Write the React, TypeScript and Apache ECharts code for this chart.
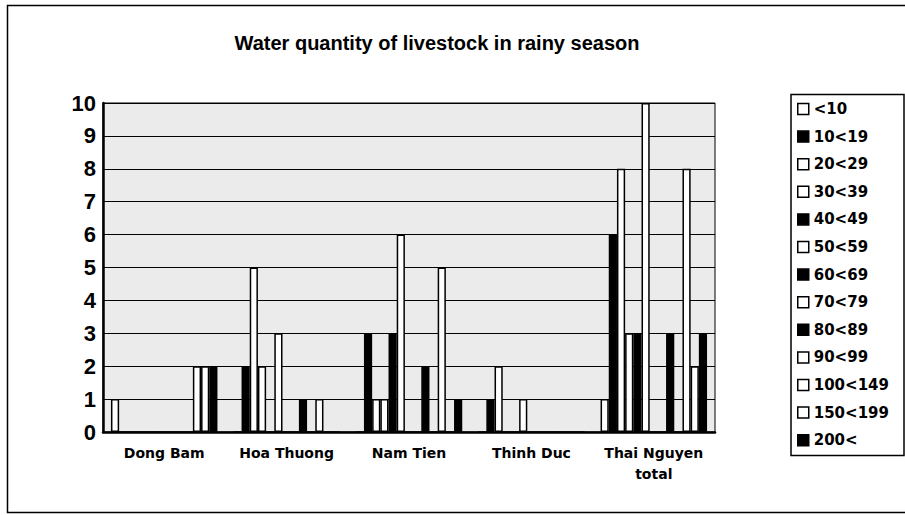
import React, { useEffect, useRef } from "react";
import * as echarts from "echarts";

const categories = ["Dong Bam", "Hoa Thuong", "Nam Tien", "Thinh Duc", "Thai Nguyen\ntotal"];
const seriesNames = ["<10", "10<19", "20<29", "30<39", "40<49", "50<59", "60<69", "70<79", "80<89", "90<99", "100<149", "150<199", "200<"];
const seriesFills = ["#ffffff", "#000000", "#ffffff", "#ffffff", "#000000", "#ffffff", "#000000", "#ffffff", "#000000", "#ffffff", "#ffffff", "#ffffff", "#000000"];
const v0 = [1, 0, 0, 0, 1];
const v1 = [0, 2, 3, 1, 6];
const v2 = [0, 5, 1, 2, 8];
const v3 = [0, 2, 1, 0, 3];
const v4 = [0, 0, 3, 0, 3];
const v5 = [0, 3, 6, 1, 10];
const v6 = [0, 0, 0, 0, 0];
const v7 = [0, 0, 0, 0, 0];
const v8 = [0, 1, 2, 0, 3];
const v9 = [0, 0, 0, 0, 0];
const v10 = [2, 1, 5, 0, 8];
const v11 = [2, 0, 0, 0, 2];
const v12 = [2, 0, 1, 0, 3];
const seriesValues = [v0, v1, v2, v3, v4, v5, v6, v7, v8, v9, v10, v11, v12];
const yTicks = [0, 10, 1];

export default function App() {
  const ref = useRef<HTMLDivElement>(null);
  useEffect(() => {
    if (!ref.current) return;
    const chart = echarts.init(ref.current, null, { renderer: "svg" });
    chart.setOption({
      animation: false,
      backgroundColor: "#ffffff",
      title: {
        text: "Water quantity of livestock in rainy season",
        left: 432,
        top: 28,
        textAlign: "center",
        textStyle: { fontFamily: "Liberation Sans", fontSize: 20, fontWeight: "bold", color: "#000" },
      },
      graphic: [
        {
          type: "rect",
          shape: { x: 7.5, y: 5.5, width: 905, height: 507 },
          style: { fill: "none", stroke: "#000", lineWidth: 1.5 },
          silent: true,
        },
        {
          type: "rect",
          shape: { x: 791, y: 94.5, width: 113, height: 361 },
          style: { fill: "#fff", stroke: "#000", lineWidth: 1.5 },
          silent: true,
          z: -1,
        },
      ],
      legend: {
        orient: "vertical",
        left: 797,
        top: 101,
        padding: 0,
        itemGap: 11.6,
        itemWidth: 11,
        itemHeight: 11,
        icon: "rect",
        itemStyle: { borderColor: "#000", borderWidth: 1.5 },
        textStyle: { fontFamily: "DejaVu Sans", fontSize: 15, fontWeight: "bold", color: "#000", lineHeight: 16 },
        data: seriesNames,
      },
      grid: {
        left: 103,
        right: 190,
        top: 103,
        bottom: 83,
        show: true,
        backgroundColor: "#ebebeb",
        borderColor: "#000",
        borderWidth: 1,
      },
      xAxis: {
        type: "category",
        data: categories,
        axisLine: { lineStyle: { color: "#000", width: 2.5 } },
        axisTick: { show: false },
        axisLabel: {
          interval: 0,
          margin: 10,
          color: "#000",
          fontFamily: "DejaVu Sans",
          fontSize: 14,
          fontWeight: "bold",
          lineHeight: 21,
        },
      },
      yAxis: {
        type: "value",
        min: yTicks[0],
        max: yTicks[1],
        interval: yTicks[2],
        axisLine: { show: true, lineStyle: { color: "#000", width: 2.5 } },
        axisTick: { show: false },
        splitLine: { show: true, lineStyle: { color: "#000", width: 1 } },
        axisLabel: {
          margin: 7,
          color: "#000",
          fontFamily: "Liberation Sans",
          fontSize: 22,
          fontWeight: "bold",
        },
      },
      series: seriesNames.map((name, i) => ({
        name,
        type: "bar",
        data: seriesValues[i],
        barGap: "0%",
        barCategoryGap: "13%",
        itemStyle: { color: seriesFills[i], borderColor: "#000", borderWidth: 1.5 },
      })),
    });
    return () => chart.dispose();
  }, []);
  return <div ref={ref} style={{ position: "fixed", left: 0, top: 0, width: 905, height: 515 }} />;
}
